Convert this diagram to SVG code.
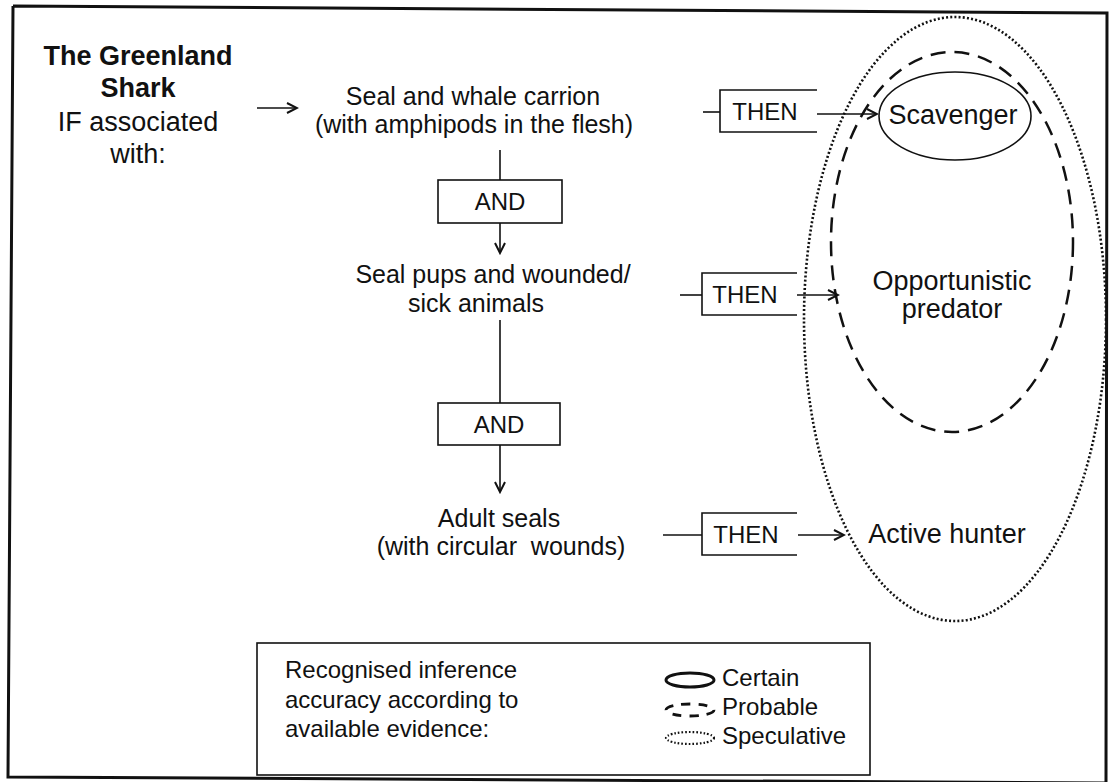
<svg xmlns="http://www.w3.org/2000/svg" width="1110" height="782" viewBox="0 0 1110 782">
<defs>
<marker id="ah" markerWidth="14" markerHeight="14" refX="12" refY="7" orient="auto" markerUnits="userSpaceOnUse">
<path d="M2,2 L12,7 L2,12" fill="none" stroke="#111" stroke-width="2"/>
</marker>
<style>
text{font-family:"Liberation Sans",Arial,Helvetica,sans-serif;fill:#111}
.ttl{font-size:27px;text-anchor:middle}
.b{font-weight:bold}
.n{font-size:25px;text-anchor:middle}
.lab{font-size:27px;text-anchor:middle}
.k{font-size:24px;text-anchor:middle}
.lg{font-size:24px}
.ln{fill:none;stroke:#111;stroke-width:1.6}
.box{fill:#fff;stroke:#111;stroke-width:1.6}
.solid{fill:none;stroke:#111;stroke-width:1.6}
.dash{fill:none;stroke:#111;stroke-width:2.5;stroke-dasharray:15 9}
.dot{fill:none;stroke:#111;stroke-width:2.6;stroke-dasharray:2 2.2}
</style>
</defs>
<rect x="0" y="0" width="1110" height="782" fill="#fff"/>
<path id="frame" d="M13,6 L1107,13 L1106,783 M1106,783 L8,777 L13,6" fill="none" stroke="#111" stroke-width="3"/>

<g id="ellipses">
<ellipse id="speculative" cx="955" cy="319" rx="151" ry="302" class="dot"/>
<ellipse id="probable" cx="952" cy="242" rx="121" ry="190" class="dash"/>
<ellipse id="certain" cx="955" cy="116" rx="76" ry="44" class="solid"/>
</g>

<g id="connectors">
<line x1="257" y1="108" x2="297" y2="108" class="ln" marker-end="url(#ah)"/>
<line x1="500" y1="150" x2="500" y2="180" class="ln"/>
<line x1="500" y1="223" x2="500" y2="253" class="ln" marker-end="url(#ah)"/>
<line x1="500" y1="320" x2="500" y2="403" class="ln"/>
<line x1="500" y1="445" x2="500" y2="492" class="ln" marker-end="url(#ah)"/>
<line x1="703" y1="112" x2="720" y2="112" class="ln"/>
<line x1="817" y1="114" x2="877" y2="114" class="ln" marker-end="url(#ah)"/>
<line x1="680" y1="295" x2="702" y2="295" class="ln"/>
<line x1="797" y1="295" x2="838" y2="295" class="ln" marker-end="url(#ah)"/>
<line x1="663" y1="535" x2="702" y2="535" class="ln"/>
<line x1="798" y1="535" x2="844" y2="535" class="ln" marker-end="url(#ah)"/>
</g>

<g id="title">
<text class="ttl b" x="138" y="65">The Greenland</text>
<text class="ttl b" x="138" y="97">Shark</text>
<text class="ttl" x="138" y="131">IF associated</text>
<text class="ttl" x="138" y="163">with:</text>
</g>

<g id="node-carrion">
<text class="n" x="473" y="105">Seal and whale carrion</text>
<text class="n" x="474" y="133">(with amphipods in the flesh)</text>
</g>
<g id="node-pups">
<text class="n" x="493" y="283">Seal pups and wounded/</text>
<text class="n" x="476" y="312">sick animals</text>
</g>
<g id="node-adult">
<text class="n" x="499" y="527">Adult seals</text>
<text class="n" x="501" y="555" xml:space="preserve">(with circular  wounds)</text>
</g>

<g id="and-1">
<rect class="box" x="438" y="180" width="124" height="43"/>
<text class="k" x="500" y="210">AND</text>
</g>
<g id="and-2">
<rect class="box" x="438" y="403" width="122" height="42"/>
<text class="k" x="499" y="433">AND</text>
</g>

<g id="then-1">
<path class="ln" d="M817,90 H720 V132 H817"/>
<text class="k" x="765" y="120">THEN</text>
</g>
<g id="then-2">
<path class="ln" d="M797,273 H702 V315 H797"/>
<text class="k" x="745" y="303">THEN</text>
</g>
<g id="then-3">
<path class="ln" d="M797,513 H702 V555 H797"/>
<text class="k" x="746" y="543">THEN</text>
</g>

<g id="labels">
<text class="lab" x="953" y="124">Scavenger</text>
<text class="lab" x="952" y="290">Opportunistic</text>
<text class="lab" x="952" y="318">predator</text>
<text class="lab" x="947" y="543">Active hunter</text>
</g>

<g id="legend">
<rect class="box" x="257" y="643" width="613" height="132"/>
<text class="lg" x="285" y="678">Recognised inference</text>
<text class="lg" x="285" y="708">accuracy according to</text>
<text class="lg" x="285" y="737">available evidence:</text>
<ellipse cx="690" cy="680" rx="24" ry="7" fill="none" stroke="#111" stroke-width="3"/>
<ellipse cx="690" cy="710" rx="24" ry="6" fill="none" stroke="#111" stroke-width="2.8" stroke-dasharray="9 8"/>
<ellipse cx="690" cy="738" rx="24" ry="6" fill="none" stroke="#111" stroke-width="2.2" stroke-dasharray="1.6 2"/>
<text class="lg" x="722" y="686">Certain</text>
<text class="lg" x="722" y="715">Probable</text>
<text class="lg" x="722" y="744">Speculative</text>
</g>
</svg>
